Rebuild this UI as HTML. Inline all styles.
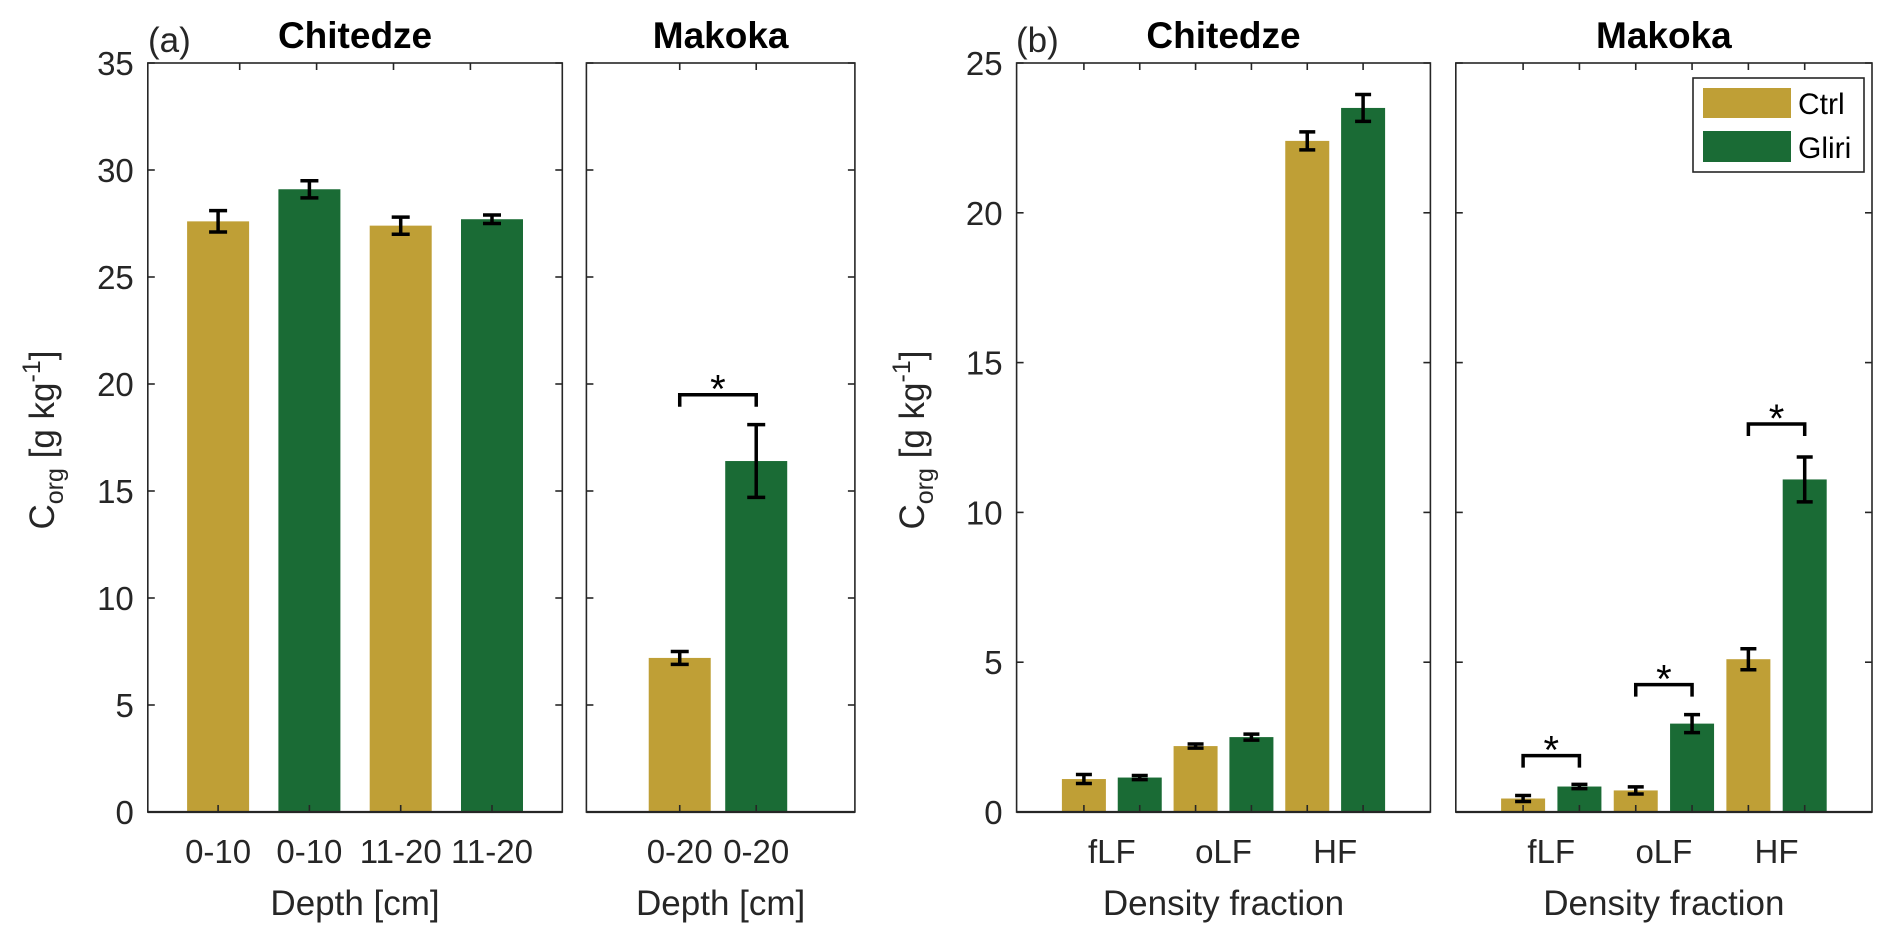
<!DOCTYPE html>
<html><head><meta charset="utf-8"><style>
html,body{margin:0;padding:0;background:#fff}
svg{display:block;font-family:"Liberation Sans",sans-serif}
</style></head><body>
<svg id="chart" width="1892" height="942" viewBox="0 0 1892 942" xmlns="http://www.w3.org/2000/svg"></svg>
<script>
// ---- data ----
const aChitCats = ["0-10","0-10","11-20","11-20"];
const aChitVals = [27.6, 29.1, 27.4, 27.7];
const aChitErr  = [0.5, 0.4, 0.4, 0.2];
const aChitTrt  = ["ctrl","gliri","ctrl","gliri"];
const aMakCats = ["0-20","0-20"];
const aMakVals = [7.2, 16.4];
const aMakErr  = [0.3, 1.7];
const aMakTrt  = ["ctrl","gliri"];
const aTicks = [0,5,10,15,20,25,30,35];
const bGroups = ["fLF","oLF","HF"];
const bChitCtrl = [1.1, 2.2, 22.4];
const bChitCtrlErr = [0.15, 0.07, 0.3];
const bChitGliri = [1.15, 2.5, 23.5];
const bChitGliriErr = [0.07, 0.1, 0.45];
const bMakCtrl = [0.45, 0.72, 5.1];
const bMakCtrlErr = [0.1, 0.12, 0.35];
const bMakGliri = [0.85, 2.95, 11.1];
const bMakGliriErr = [0.07, 0.3, 0.75];
const bTicks = [0,5,10,15,20,25];
const aSig = [19.5];
const bSig = [1.88, 4.25, 12.95];

const NS="http://www.w3.org/2000/svg";
const svg=document.getElementById('chart');
const COL={ctrl:"#BF9F36",gliri:"#1A6B35"};
const TICKFS=33, LABFS=35, TITLEFS=37;
function el(t,a,p){const e=document.createElementNS(NS,t);for(const k in a)e.setAttribute(k,a[k]);(p||svg).appendChild(e);return e;}
function txt(s,a,p){const e=el('text',a,p);e.textContent=s;return e;}
const Y0=812, Y1=63;
function yA(v){return Y0-(v/35)*(Y0-Y1);}
function yB(v){return Y0-(v/25)*(Y0-Y1);}

function axesBox(x0,x1,name){
  const g=el('g',{});
  
  
  el('rect',{x:x0,y:Y1,width:x1-x0,height:Y0-Y1,fill:"#fff",stroke:"none"},g);
  return g;
}
function frame(g,x0,x1){
  el('rect',{x:x0,y:Y1,width:x1-x0,height:Y0-Y1,fill:"none",stroke:"#262626","stroke-width":1.6},g);
  el('line',{x1:x0,x2:x1,y1:Y0,y2:Y0,stroke:"#262626","stroke-width":2.2},g);
}
function yticks(g,x0,x1,ticks,yf,labels){
  ticks.forEach(t=>{
    const y=yf(t);
    el('line',{x1:x0,x2:x0+7,y1:y,y2:y,stroke:"#262626","stroke-width":1.6},g);
    el('line',{x1:x1,x2:x1-7,y1:y,y2:y,stroke:"#262626","stroke-width":1.6},g);
    if(labels){const l=txt(String(t),{x:x0-14,y:y+12,"text-anchor":"end","font-size":TICKFS,fill:"#262626"},g);
      
      }
  });
}
function xtick(g,x){
  el('line',{x1:x,x2:x,y1:Y0,y2:Y0-7,stroke:"#262626","stroke-width":1.6},g);
  el('line',{x1:x,x2:x,y1:Y1,y2:Y1+7,stroke:"#262626","stroke-width":1.6},g);
}
function bar(g,cx,w,v,e,trt,yf,name,cap){
  const yt=yf(v);
  const r=el('rect',{x:cx-w/2,y:yt,width:w,height:Y0-yt,fill:COL[trt]},g);
  
  
  const eb=el('g',{stroke:"#000","stroke-width":3.5},g);
  
  
  el('line',{x1:cx,x2:cx,y1:yf(v+e),y2:yf(v-e)},eb);
  el('line',{x1:cx-cap,x2:cx+cap,y1:yf(v+e),y2:yf(v+e)},eb);
  el('line',{x1:cx-cap,x2:cx+cap,y1:yf(v-e),y2:yf(v-e)},eb);
}
function sig(g,xa,xb,v,yf,name){
  const y=yf(v);
  const s=el('g',{},g);
  
  
  el('polyline',{points:`${xa},${y+12} ${xa},${y} ${xb},${y} ${xb},${y+12}`,fill:"none",stroke:"#000","stroke-width":3.5},s);
  txt("*",{x:(xa+xb)/2,y:y+8,"text-anchor":"middle","font-size":40,fill:"#000"},s);
}
function title(s,x,name){const t=txt(s,{x:x,y:48,"text-anchor":"middle","font-size":TITLEFS,"font-weight":"bold",fill:"#000"});
  }
function xlabel(s,x,name){const t=txt(s,{x:x,y:915,"text-anchor":"middle","font-size":LABFS,fill:"#262626"});
  }
function ylabel(x,name){
  const t=el('text',{transform:`translate(${x},440) rotate(-90)`,"text-anchor":"middle","font-size":LABFS,fill:"#262626"});
  
  t.innerHTML='C<tspan font-size="25" dy="9">org</tspan><tspan dy="-9"> [g kg</tspan><tspan font-size="25" dy="-14">-1</tspan><tspan dy="14">]</tspan>';
}

// ---- panel a, Chitedze ----
{
  const x0=147.8,x1=562.3, lo=0.23, hi=4.77;
  const xf=i=>x0+(i-lo)/(hi-lo)*(x1-x0);
  const g=axesBox(x0,x1,'panel-a-chitedze');
  [239.7,316.6,393.5,470.4].forEach(x=>el('line',{x1:x,x2:x,y1:Y1,y2:Y1+7,stroke:"#262626","stroke-width":1.6},g));
  aChitVals.forEach((v,i)=>{
    const cx=xf(i+1);
    bar(g,cx,62,v,aChitErr[i],aChitTrt[i],yA,'bar-a-chitedze-'+(i+1),9);
    el('line',{x1:cx,x2:cx,y1:Y0,y2:Y0-7,stroke:"#262626","stroke-width":1.6},g);
    const l=txt(aChitCats[i],{x:cx,y:863,"text-anchor":"middle","font-size":TICKFS,fill:"#262626"},g);
    
  });
  yticks(g,x0,x1,aTicks,yA,true);
  frame(g,x0,x1);
  title("Chitedze",(x0+x1)/2,'title-a-chitedze');
  xlabel("Depth [cm]",(x0+x1)/2,'x-axis-title-a-chitedze');
  ylabel(54,'y-axis-title-a');
  const pa=txt("(a)",{x:148,y:52,"font-size":LABFS,fill:"#262626"});
  
}
// ---- panel a, Makoka ----
{
  const x0=586.4,x1=854.9, lo=-0.22, hi=3.29;
  const xf=i=>x0+(i-lo)/(hi-lo)*(x1-x0);
  const g=axesBox(x0,x1,'panel-a-makoka');
  aMakVals.forEach((v,i)=>{
    const cx=xf(i+1);
    bar(g,cx,62,v,aMakErr[i],aMakTrt[i],yA,'bar-a-makoka-'+(i+1),9);
    xtick(g,cx);
    const l=txt(aMakCats[i],{x:cx,y:863,"text-anchor":"middle","font-size":TICKFS,fill:"#262626"},g);
    
  });
  yticks(g,x0,x1,aTicks,yA,false);
  frame(g,x0,x1);
  sig(g,xf(1),xf(2),aSig[0],yA,'significance-a-makoka');
  title("Makoka",(x0+x1)/2,'title-a-makoka');
  xlabel("Depth [cm]",(x0+x1)/2,'x-axis-title-a-makoka');
}
// ---- panel b ----
function panelB(x0,x1,ctrl,ctrlE,gl,glE,name,sigs){
  const step=(x1-x0-134.6)/5;
  const xf=k=>x0+67.3+k*step;
  const g=axesBox(x0,x1,name);
  bGroups.forEach((grp,i)=>{
    const c1=xf(2*i), c2=xf(2*i+1);
    bar(g,c1,44,ctrl[i],ctrlE[i],'ctrl',yB,name+'-ctrl-'+grp,8);
    bar(g,c2,44,gl[i],glE[i],'gliri',yB,name+'-gliri-'+grp,8);
    xtick(g,c1);xtick(g,c2);
    const l=txt(grp,{x:(c1+c2)/2,y:863,"text-anchor":"middle","font-size":TICKFS,fill:"#262626"},g);
    
    if(sigs) sig(g,c1,c2,sigs[i],yB,name+'-significance-'+grp);
  });
  yticks(g,x0,x1,bTicks,yB,name==='panel-b-chitedze');
  frame(g,x0,x1);
  return g;
}
panelB(1016.6,1430.4,bChitCtrl,bChitCtrlErr,bChitGliri,bChitGliriErr,'panel-b-chitedze',null);
panelB(1455.8,1872,bMakCtrl,bMakCtrlErr,bMakGliri,bMakGliriErr,'panel-b-makoka',bSig);
title("Chitedze",(1016.6+1430.4)/2,'title-b-chitedze');
title("Makoka",(1455.8+1872)/2,'title-b-makoka');
xlabel("Density fraction",(1016.6+1430.4)/2,'x-axis-title-b-chitedze');
xlabel("Density fraction",(1455.8+1872)/2,'x-axis-title-b-makoka');
ylabel(924,'y-axis-title-b');
{const pb=txt("(b)",{x:1016,y:52,"font-size":LABFS,fill:"#262626"});
}
// legend
{
  const lg=el('g',{});
  
  
  el('rect',{x:1693,y:78,width:171,height:94,fill:"#fff",stroke:"#262626","stroke-width":1.6},lg);
  const e1=el('g',{},lg);
  
  
  el('rect',{x:1703,y:88,width:88,height:30,fill:COL.ctrl},e1);
  txt("Ctrl",{x:1798,y:114,"font-size":30,fill:"#000"},e1);
  const e2=el('g',{},lg);
  
  
  el('rect',{x:1703,y:131,width:88,height:31,fill:COL.gliri},e2);
  txt("Gliri",{x:1798,y:158,"font-size":30,fill:"#000"},e2);
}
</script>
</body></html>
